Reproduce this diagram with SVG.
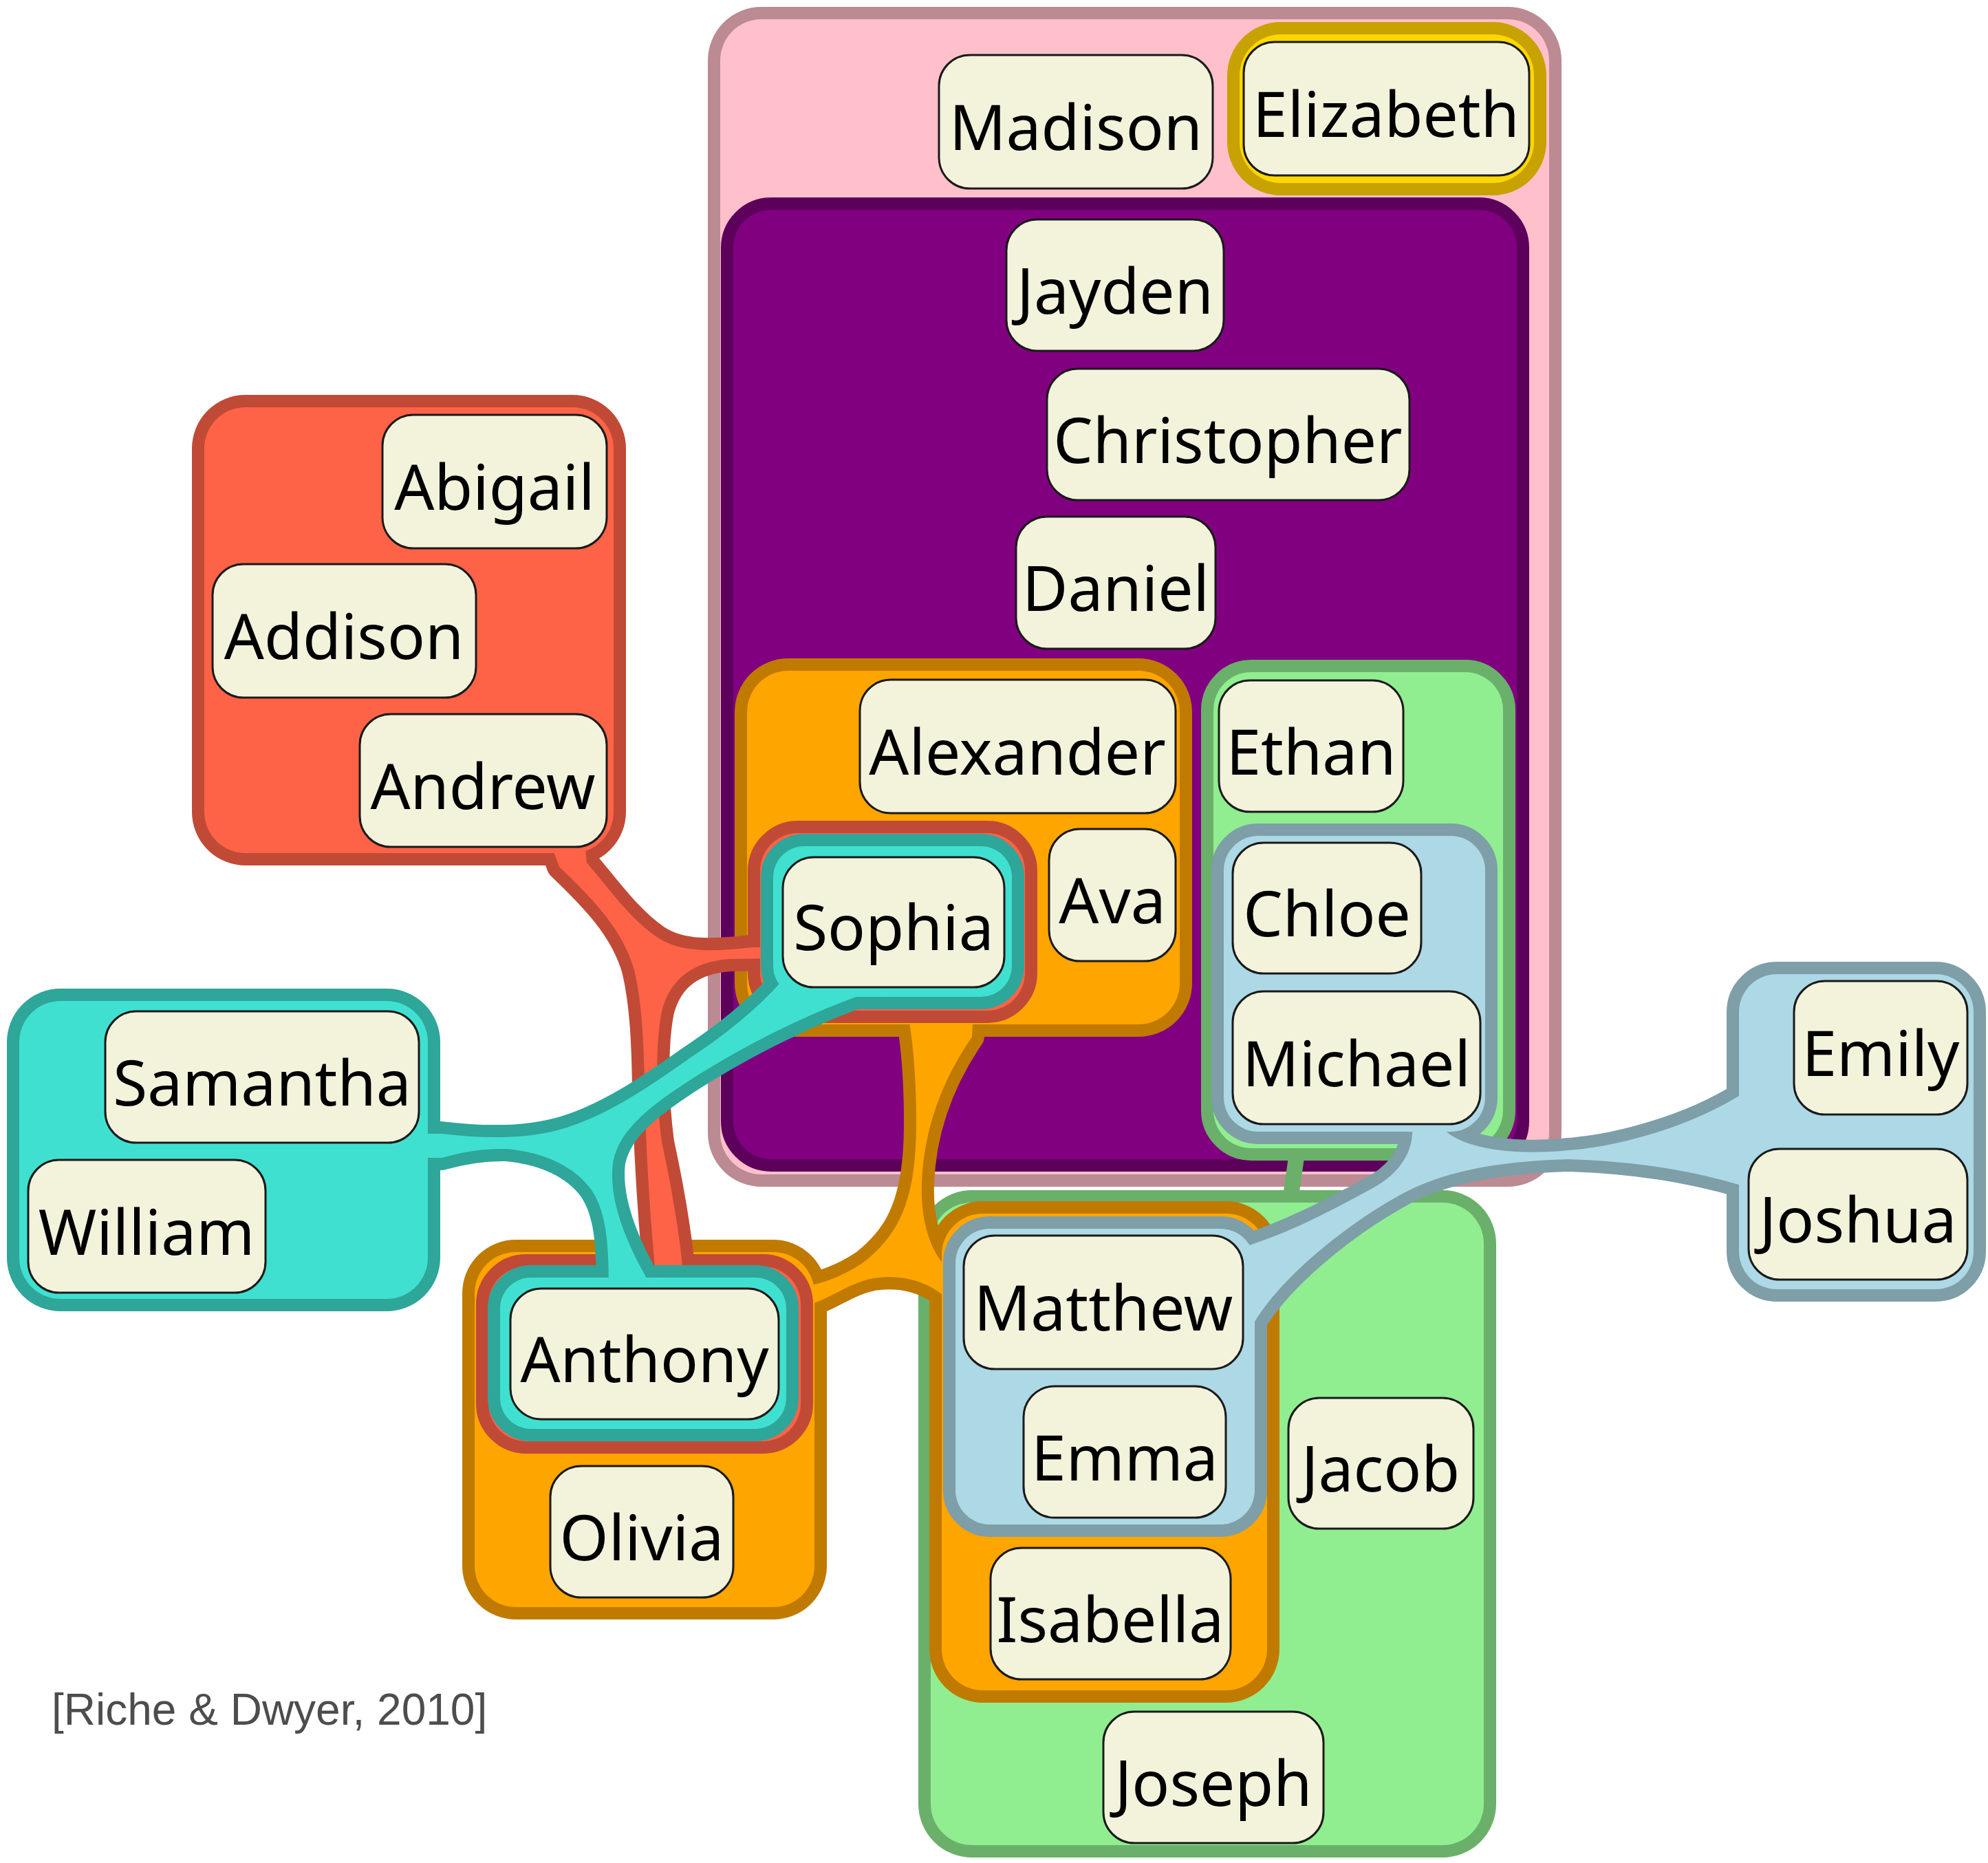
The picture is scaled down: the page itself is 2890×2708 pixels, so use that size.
<svg xmlns="http://www.w3.org/2000/svg" width="2890" height="2708" viewBox="0 0 2890 2708">
<style>
.S{stroke-width:36;stroke-linejoin:round}
.pinkS{fill:#bc8a93;stroke:#bc8a93}.pinkF{fill:#ffc0cb}
.goldS{fill:#c7a200;stroke:#c7a200}.goldF{fill:#ffd700}
.purS{fill:#5c005c;stroke:#5c005c}.purF{fill:#800080}
.grnS{fill:#6ab06a;stroke:#6ab06a}.grnF{fill:#90ee90}
.orgS{fill:#c07a00;stroke:#c07a00}.orgF{fill:#ffa500}
.redS{fill:#c04a36;stroke:#c04a36}.redF{fill:#ff6347}
.tealS{fill:#2ea69a;stroke:#2ea69a}.tealF{fill:#40e0d0}
.bluS{fill:#7e9ea8;stroke:#7e9ea8}.bluF{fill:#add8e6}
.node rect{fill:#f3f3dc;stroke:#1a1a1a;stroke-width:3}
.node text{font-family:"Noto Sans","Open Sans",sans-serif;font-size:91px;fill:#000;text-anchor:middle}
.cite{font-family:"Liberation Sans",Arial,sans-serif;font-size:64px;fill:#4d4d4d}
</style>
<defs>
<rect id="g-pink" x="1047" y="28" width="1205" height="1679" rx="60"/>
<rect id="g-gold" x="1802" y="50" width="428" height="216" rx="60"/>
<rect id="g-purple" x="1066" y="305" width="1139" height="1380" rx="55"/>
<rect id="g-green-top" x="1764" y="977" width="421" height="692" rx="55"/>
<rect id="g-green-bot" x="1353" y="1748" width="804" height="934" rx="60"/>
<rect id="g-org-sophia" x="1086" y="975" width="629" height="514" rx="60"/>
<rect id="g-org-anthony" x="690" y="1820" width="494" height="516" rx="60"/>
<rect id="g-org-matthew" x="1369" y="1764" width="473" height="693" rx="60"/>
<path id="t-orange" d="M1320,1470 L1325,1507 C1332,1560 1335,1650 1328,1700 C1320,1760 1300,1800 1255,1835 C1230,1852 1200,1866 1160,1872 L1160,1900 C1200,1895 1230,1865 1270,1858 C1310,1852 1345,1862 1370,1882 L1400,1882 L1400,1836 L1370,1836 C1350,1810 1338,1770 1340,1720 C1343,1640 1370,1570 1413,1507 L1415,1470 Z"/>
<rect id="g-red" x="297" y="592" width="595" height="648" rx="60"/>
<rect id="g-red-sophia" x="1105" y="1211" width="385" height="258" rx="55"/>
<rect id="g-red-anthony" x="710" y="1841" width="454" height="254" rx="55"/>
<path id="t-red" d="M800,1225 L813,1260 C860,1305 905,1350 922,1410 C934,1460 936,1520 937,1580 C939,1680 946,1780 955,1875 L995,1875 C990,1800 975,1720 962,1660 C954,1600 952,1520 962,1470 C975,1420 1010,1398 1060,1394 L1125,1393 L1125,1377 L1093,1377 C1040,1383 990,1386 955,1362 C915,1335 880,1285 853,1254 L850,1225 Z"/>
<rect id="g-teal" x="28" y="1455" width="594" height="433" rx="60"/>
<rect id="g-teal-sophia" x="1124" y="1230" width="347" height="219" rx="45"/>
<rect id="g-teal-anthony" x="727" y="1857" width="416" height="220" rx="45"/>
<path id="t-teal" d="M600,1648 L642,1648 C700,1655 760,1656 810,1643 C880,1625 950,1575 1000,1540 C1060,1500 1110,1460 1150,1410 L1160,1400 L1270,1400 L1270,1440 C1180,1470 1080,1520 1000,1572 C950,1605 900,1640 891,1690 C885,1740 905,1800 950,1875 L885,1875 C885,1800 880,1760 860,1730 C835,1695 790,1675 737,1670 C700,1669 670,1675 642,1683 L600,1683 Z"/>
<rect id="g-blue-chloe" x="1779" y="1215" width="380" height="430" rx="50"/>
<rect id="g-blue-emily" x="2528" y="1416" width="341" height="458" rx="55"/>
<rect id="g-blue-matthew" x="1389" y="1786" width="435" height="430" rx="50"/>
<path id="t-blue" d="M2060,1620 L2053,1647 C2052,1680 2030,1710 1990,1730 C1940,1757 1880,1790 1810,1812 L1790,1830 L1790,1930 L1823,1923 C1860,1860 1950,1785 2030,1740 C2090,1705 2170,1688 2280,1685 C2380,1688 2460,1702 2528,1722 L2550,1722 L2550,1593 L2528,1593 C2460,1635 2360,1666 2280,1672 C2200,1680 2130,1670 2100,1643 L2095,1620 Z"/>
</defs>

<g id="set-pink">
<use href="#g-pink" class="S pinkS"/><use href="#g-pink" class="pinkF"/>
</g>
<g id="set-gold">
<use href="#g-gold" class="S goldS"/><use href="#g-gold" class="goldF"/>
</g>
<g id="set-purple">
<use href="#g-purple" class="S purS"/><use href="#g-purple" class="purF"/>
</g>
<g id="set-green">
<use href="#g-green-top" class="S grnS"/><use href="#g-green-bot" class="S grnS"/>
<use href="#g-green-top" class="grnF"/><use href="#g-green-bot" class="grnF"/>
</g>
<g id="connectors-green">
<line x1="1886" y1="1672" x2="1876" y2="1742" stroke="#6ab06a" stroke-width="23"/>
</g>
<g id="set-orange">
<use href="#g-org-sophia" class="S orgS"/><use href="#g-org-anthony" class="S orgS"/><use href="#g-org-matthew" class="S orgS"/><use href="#t-orange" class="S orgS"/>
<use href="#g-org-sophia" class="orgF"/><use href="#g-org-anthony" class="orgF"/><use href="#g-org-matthew" class="orgF"/><use href="#t-orange" class="orgF"/>
</g>
<g id="set-red">
<use href="#g-red" class="S redS"/><use href="#g-red-sophia" class="S redS"/><use href="#g-red-anthony" class="S redS"/><use href="#t-red" class="S redS"/>
<use href="#g-red" class="redF"/><use href="#g-red-sophia" class="redF"/><use href="#g-red-anthony" class="redF"/><use href="#t-red" class="redF"/>
</g>
<g id="set-teal">
<use href="#g-teal" class="S tealS"/><use href="#g-teal-sophia" class="S tealS"/><use href="#g-teal-anthony" class="S tealS"/><use href="#t-teal" class="S tealS"/>
<use href="#g-teal" class="tealF"/><use href="#g-teal-sophia" class="tealF"/><use href="#g-teal-anthony" class="tealF"/><use href="#t-teal" class="tealF"/>
</g>
<g id="set-blue">
<use href="#g-blue-chloe" class="S bluS"/><use href="#g-blue-emily" class="S bluS"/><use href="#g-blue-matthew" class="S bluS"/><use href="#t-blue" class="S bluS"/>
<use href="#g-blue-chloe" class="bluF"/><use href="#g-blue-emily" class="bluF"/><use href="#g-blue-matthew" class="bluF"/><use href="#t-blue" class="bluF"/>
</g>

<g id="node-Madison" class="node"><rect x="1365" y="80" width="398" height="194" rx="45"/><text x="1564" y="218">Madison</text></g>
<g id="node-Elizabeth" class="node"><rect x="1808" y="61" width="415" height="194" rx="45"/><text x="2015" y="199">Elizabeth</text></g>
<g id="node-Jayden" class="node"><rect x="1463" y="319" width="316" height="191" rx="45"/><text x="1621" y="456">Jayden</text></g>
<g id="node-Christopher" class="node"><rect x="1522" y="536" width="527" height="191" rx="45"/><text x="1785" y="673">Christopher</text></g>
<g id="node-Daniel" class="node"><rect x="1477" y="751" width="290" height="192" rx="45"/><text x="1622" y="888">Daniel</text></g>
<g id="node-Abigail" class="node"><rect x="556" y="603" width="326" height="194" rx="45"/><text x="719" y="741">Abigail</text></g>
<g id="node-Addison" class="node"><rect x="309" y="820" width="383" height="194" rx="45"/><text x="500" y="958">Addison</text></g>
<g id="node-Andrew" class="node"><rect x="523" y="1038" width="359" height="193" rx="45"/><text x="702" y="1176">Andrew</text></g>
<g id="node-Alexander" class="node"><rect x="1250" y="988" width="459" height="194" rx="45"/><text x="1479" y="1126">Alexander</text></g>
<g id="node-Ava" class="node"><rect x="1525" y="1205" width="184" height="192" rx="45"/><text x="1617" y="1342">Ava</text></g>
<g id="node-Sophia" class="node"><rect x="1138" y="1246" width="322" height="189" rx="45"/><text x="1299" y="1381">Sophia</text></g>
<g id="node-Ethan" class="node"><rect x="1772" y="989" width="268" height="191" rx="45"/><text x="1906" y="1126">Ethan</text></g>
<g id="node-Chloe" class="node"><rect x="1792" y="1225" width="274" height="190" rx="45"/><text x="1929" y="1361">Chloe</text></g>
<g id="node-Michael" class="node"><rect x="1792" y="1441" width="360" height="193" rx="45"/><text x="1972" y="1579">Michael</text></g>
<g id="node-Emily" class="node"><rect x="2608" y="1426" width="252" height="194" rx="45"/><text x="2734" y="1564">Emily</text></g>
<g id="node-Joshua" class="node"><rect x="2542" y="1670" width="318" height="190" rx="45"/><text x="2701" y="1806">Joshua</text></g>
<g id="node-Samantha" class="node"><rect x="153" y="1470" width="456" height="191" rx="45"/><text x="381" y="1607">Samantha</text></g>
<g id="node-William" class="node"><rect x="41" y="1686" width="345" height="193" rx="45"/><text x="213" y="1824">William</text></g>
<g id="node-Anthony" class="node"><rect x="742" y="1873" width="390" height="190" rx="45"/><text x="937" y="2009">Anthony</text></g>
<g id="node-Olivia" class="node"><rect x="800" y="2131" width="266" height="191" rx="45"/><text x="933" y="2268">Olivia</text></g>
<g id="node-Matthew" class="node"><rect x="1401" y="1796" width="406" height="194" rx="45"/><text x="1604" y="1934">Matthew</text></g>
<g id="node-Emma" class="node"><rect x="1488" y="2015" width="294" height="191" rx="45"/><text x="1635" y="2152">Emma</text></g>
<g id="node-Isabella" class="node"><rect x="1440" y="2250" width="349" height="191" rx="45"/><text x="1614" y="2387">Isabella</text></g>
<g id="node-Jacob" class="node"><rect x="1873" y="2032" width="269" height="190" rx="45"/><text x="2007" y="2168">Jacob</text></g>
<g id="node-Joseph" class="node"><rect x="1604" y="2488" width="320" height="191" rx="45"/><text x="1764" y="2625">Joseph</text></g>

<text class="cite" x="75" y="2507">[Riche &amp; Dwyer, 2010]</text>
</svg>
